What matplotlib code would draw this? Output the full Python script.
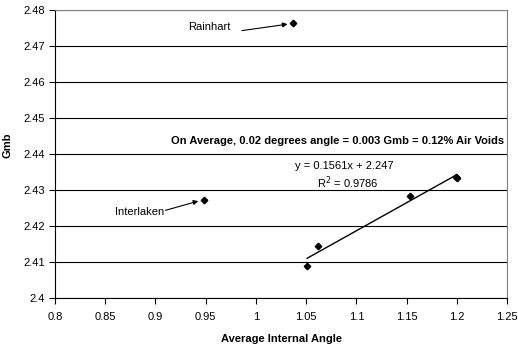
import matplotlib
import matplotlib.pyplot as plt
import numpy as np

matplotlib.use("Agg", force=True)

plt.rcParams["font.family"] = ["Liberation Sans", "DejaVu Sans"]
plt.rcParams["font.size"] = 8

# data
angle = [1.037, 0.948, 1.062, 1.051, 1.153, 1.199, 1.200]
gmb = [2.4764, 2.4274, 2.4145, 2.4088, 2.4284, 2.4338, 2.4334]
fit_x = [1.051, 1.200]
slope, intercept = 0.1561, 2.247
x_ticks = [0.8, 0.85, 0.9, 0.95, 1, 1.05, 1.1, 1.15, 1.2, 1.25]
y_ticks = [2.4, 2.41, 2.42, 2.43, 2.44, 2.45, 2.46, 2.47, 2.48]

fig = plt.figure(figsize=(5.18, 3.49), dpi=100)
ax = fig.add_axes([0.1062, 0.146, 0.8726, 0.824])

ax.set_xlim(0.8, 1.25)
ax.set_ylim(2.4, 2.48)
ax.set_xticks(x_ticks)
ax.set_xticklabels([f"{v:g}" for v in x_ticks])
ax.set_yticks(y_ticks)
ax.set_yticklabels([f"{v:g}" for v in y_ticks])
ax.tick_params(direction="out", length=4, width=0.8, colors="black", pad=3)
ax.tick_params(axis="x", pad=6)

for s in ("top", "right"):
    ax.spines[s].set_color("#808080")
for s in ("left", "bottom"):
    ax.spines[s].set_color("black")
ax.yaxis.grid(True, color="black", linewidth=0.8)
ax.set_axisbelow(True)

ax.plot(angle, gmb, linestyle="none", marker="D", markersize=3.3, color="black", zorder=3)
fx = np.array(fit_x)
ax.plot(fx, slope * fx + intercept, color="black", linewidth=1.0, zorder=3)

arrow = dict(arrowstyle="-|>", color="black", lw=0.8, mutation_scale=7, shrinkA=0, shrinkB=4)
# Rainhart: label and a separate arrow starting a little right of it
ax.text(0.954, 2.4754, "Rainhart", ha="center", va="center")
ax.annotate("", xy=(angle[0], gmb[0]), xytext=(0.986, 2.4744), arrowprops=arrow)
# Interlaken: arrow starts at the end of the label
ax.text(0.884, 2.4240, "Interlaken", ha="center", va="center")
ax.annotate("", xy=(angle[1], gmb[1]), xytext=(0.910, 2.4244), arrowprops=arrow)

ax.text(1.0877, 2.4368, f"y = {slope}x + {intercept}", ha="center", va="center")
ax.text(1.0917, 2.4321, "R$^2$ = 0.9786", ha="center", va="center")
ax.text(1.0808, 2.4438, "On Average, 0.02 degrees angle = 0.003 Gmb = 0.12% Air Voids",
        ha="center", va="center", fontweight="bold")

ax.set_xlabel("Average Internal Angle", fontweight="bold", labelpad=9)
ax.set_ylabel("Gmb", fontweight="bold")
ax.yaxis.set_label_coords(-0.095, 0.531)

fig.savefig("out.png", dpi=100)
